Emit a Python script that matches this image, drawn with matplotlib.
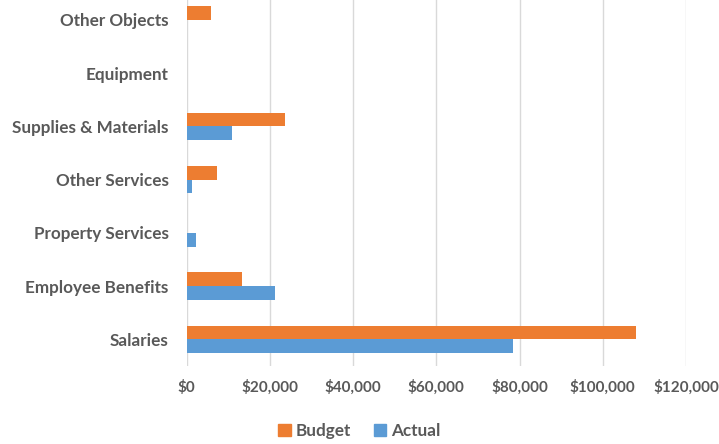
import matplotlib
matplotlib.use("Agg")
import matplotlib.pyplot as plt
import numpy as np
from matplotlib.ticker import FuncFormatter
from matplotlib.patches import Patch

categories = ["Salaries", "Employee Benefits", "Property Services", "Other Services",
              "Supplies & Materials", "Equipment", "Other Objects"]
budget = [108000, 13400, 0, 7400, 23700, 0, 5900]
actual = [78500, 21300, 2200, 1350, 11000, 0, 0]
xticks = [0, 20000, 40000, 60000, 80000, 100000, 120000]

orange = "#ED7D31"
blue = "#5B9BD5"
txt = "#595959"

plt.rcParams['font.family'] = ['Lato', 'DejaVu Sans']
plt.rcParams['font.weight'] = 'bold'

W, H = 719, 444
fig = plt.figure(figsize=(W/100, H/100), dpi=100)
left, right = 186.7, 686.0
top, bottom = 0.0, 366.0
ax = fig.add_axes([left/W, 1 - bottom/H, (right-left)/W, (bottom-top)/H])

y = np.arange(len(categories))
h = 0.257
ax.barh(y + h/2, budget, height=h, color=orange, zorder=3)
ax.barh(y - h/2, actual, height=h, color=blue, zorder=3)

ax.set_xlim(0, 120000)
ax.set_ylim(-0.5, 6.375)
ax.set_xticks(xticks)
ax.xaxis.set_major_formatter(FuncFormatter(lambda v, p: "${:,.0f}".format(v)))
ax.set_yticks(y)
ax.set_yticklabels(categories)
ax.grid(axis='x', color='#D9D9D9', linewidth=1.0, zorder=0)
ax.set_axisbelow(True)
for s in ax.spines.values():
    s.set_visible(False)
ax.tick_params(axis='both', length=0, colors=txt)
ax.tick_params(axis='y', pad=13, labelsize=12.3)
ax.tick_params(axis='x', pad=10, labelsize=11)
for lab in ax.get_xticklabels() + ax.get_yticklabels():
    lab.set_fontweight('bold')

handles = [Patch(color=orange, label="Budget"), Patch(color=blue, label="Actual")]
fig.legend(handles=handles, loc='center', bbox_to_anchor=(0.5, 1 - 431/H), ncol=2,
           frameon=False, handlelength=0.75, handleheight=0.75, handletextpad=0.3,
           columnspacing=1.3, prop={'weight': 'bold', 'size': 12.3}, labelcolor=txt)

fig.savefig("out.png", dpi=100)
